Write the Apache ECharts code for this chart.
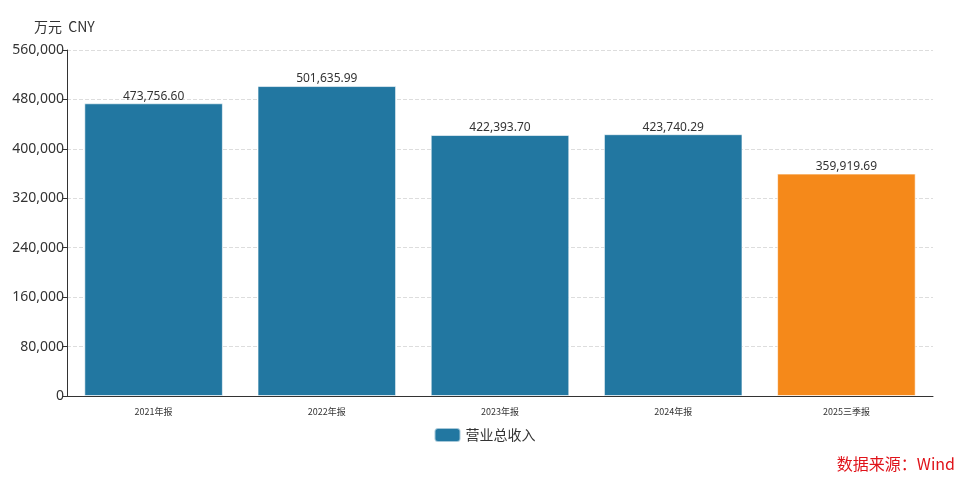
<!DOCTYPE html>
<html><head><meta charset="utf-8">
<script src="https://cdn.jsdelivr.net/npm/echarts@6/dist/echarts.min.js"></script>
<style>html,body{margin:0;padding:0;background:#fff}#c{width:969px;height:481px}</style>
</head><body><div id="c"></div>
<script>
const categories = ['2021年报','2022年报','2023年报','2024年报','2025三季报'];
const values = [473756.60, 501635.99, 422393.70, 423740.29, 359919.69];
const seriesName = '营业总收入';
const yTicks = [0, 80000, 160000, 240000, 320000, 400000, 480000, 560000];
const blue = '#2277a1', orange = '#f5891a';
const chart = echarts.init(document.getElementById('c'));
chart.setOption({
  animation: false,
  grid: {left: 67, right: 36, top: 50, bottom: 85},
  legend: {data:[{name:seriesName, itemStyle:{color:blue}}], bottom: 33, left: 'center', itemWidth: 26, itemHeight: 14, itemGap: 5,
    textStyle:{fontSize:14, color:'#333', fontFamily:'Noto Sans CJK SC'}},
  graphic: [
    {type:'text', left: 34, top: 20, style:{text:'万元  CNY', fontSize:14, fill:'#333', fontFamily:'Noto Sans CJK SC'}},
    {type:'text', right: 14, top: 456, style:{text:'数据来源：Wind', fontSize:16, fill:'#e0131a', fontFamily:'Noto Sans CJK SC'}}
  ],
  xAxis: {type:'category', data: categories,
    axisLine:{lineStyle:{color:'#333'}}, axisTick:{alignWithLabel:true, length:5, lineStyle:{color:'#333'}},
    axisLabel:{fontSize:9, color:'#333', margin:11, fontFamily:'Noto Sans CJK SC'}},
  yAxis: {type:'value', min: yTicks[0], max: yTicks[yTicks.length-1], interval: 80000,
    axisLine:{show:true, lineStyle:{color:'#333'}}, axisTick:{show:true, length:5, lineStyle:{color:'#333'}},
    axisLabel:{fontSize:14, color:'#333', margin:3, fontFamily:'Noto Sans', formatter: v => v.toLocaleString('en-US')},
    splitLine:{lineStyle:{type:'dashed', color:'#ddd'}}},
  series: [{name: seriesName, type:'bar', barWidth:'80%',
    data: values.map((v,i) => ({value:v, itemStyle:{color: i === values.length-1 ? orange : blue}})),
    itemStyle:{borderColor:'rgba(255,255,255,0.6)', borderWidth:1},
    label:{show:true, position:'top', distance:1, fontSize:12, color:'#333', fontFamily:'Noto Sans',
      formatter: p => p.value.toLocaleString('en-US',{minimumFractionDigits:2, maximumFractionDigits:2})}}]
});
</script></body></html>
